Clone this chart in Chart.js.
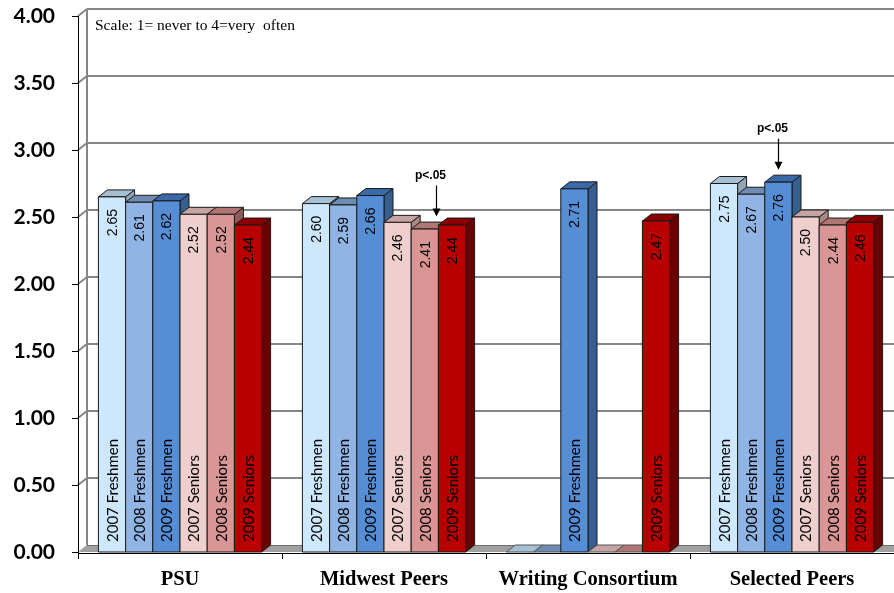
<!DOCTYPE html>
<html>
<head>
<meta charset="utf-8">
<script src="https://cdn.jsdelivr.net/npm/chart.js@4/dist/chart.umd.min.js"></script>
<style>
  html, body { margin: 0; padding: 0; background: #ffffff; }
  #wrap { width: 894px; height: 593px; }
</style>
</head>
<body>
<div id="wrap"><canvas id="chart" width="894" height="593"></canvas></div>
<script>
// Survey groups and cohorts
const categories = ['PSU', 'Midwest Peers', 'Writing Consortium', 'Selected Peers'];
const seriesNames = ['2007 Freshmen', '2008 Freshmen', '2009 Freshmen', '2007 Seniors', '2008 Seniors', '2009 Seniors'];

// Mean scores per group (null = no data for that cohort)
const freshmen2007 = [2.65, 2.60, null, 2.75];
const freshmen2008 = [2.61, 2.59, null, 2.67];
const freshmen2009 = [2.62, 2.66, 2.71, 2.76];
const seniors2007  = [2.52, 2.46, null, 2.50];
const seniors2008  = [2.52, 2.41, null, 2.44];
const seniors2009  = [2.44, 2.44, 2.47, 2.46];

// Value axis
const yMin = 0;
const yMax = 4;
const yStep = 0.5;

const scaleNote = 'Scale: 1= never to 4=very  often';

// Significance markers: which group / cohort they point at
const sigMarks = [
  { group: 1, series: 4, text: 'p<.05', shift: 0.41 },
  { group: 3, series: 2, text: 'p<.05', shift: 0 }
];

// Styling
const frontColors = ['#cde8fc', '#90b4e3', '#558ed5', '#efcfce', '#d99694', '#b80000'];
const topColors   = ['#a7bfd2', '#6f8bb1', '#3b68a6', '#c6a4a3', '#b07675', '#8a0000'];
const sideColors  = ['#91a5b5', '#5e769a', '#365f91', '#a98887', '#8e5b5a', '#6a0000'];
const outline = '#1a1a1a';
const DX = 9;    // depth offset, x
const DY = -7;   // depth offset, y
const gridColor = '#868686';

const seriesData = [freshmen2007, freshmen2008, freshmen2009, seniors2007, seniors2008, seniors2009];

function poly(ctx, pts, fill, stroke) {
  ctx.beginPath();
  ctx.moveTo(pts[0][0], pts[0][1]);
  for (let i = 1; i < pts.length; i++) ctx.lineTo(pts[i][0], pts[i][1]);
  ctx.closePath();
  if (fill) { ctx.fillStyle = fill; ctx.fill(); }
  if (stroke) { ctx.strokeStyle = stroke; ctx.lineWidth = 1; ctx.stroke(); }
}

// Walls, gridlines and floor behind the columns
const frame3d = {
  id: 'frame3d',
  beforeDatasetsDraw(chart) {
    const { ctx, chartArea: a, scales: { y } } = chart;
    const y0 = y.getPixelForValue(yMin);
    const yTop = y.getPixelForValue(yMax);
    ctx.save();
    // back wall gridlines
    ctx.strokeStyle = gridColor;
    ctx.lineWidth = 2;
    for (let v = yMin + yStep; v <= yMax + 1e-9; v += yStep) {
      const py = y.getPixelForValue(v);
      ctx.beginPath();
      ctx.moveTo(a.left + DX, py + DY);
      ctx.lineTo(a.right + 4, py + DY);
      ctx.stroke();
      // side wall diagonal
      ctx.beginPath();
      ctx.moveTo(a.left, py);
      ctx.lineTo(a.left + DX, py + DY);
      ctx.stroke();
    }
    // back wall left edge
    ctx.beginPath();
    ctx.moveTo(a.left + DX, yTop + DY);
    ctx.lineTo(a.left + DX, y0 + DY);
    ctx.stroke();

    // floor
    poly(ctx, [[a.left, y0], [a.right + 4, y0], [a.right + 4 + DX, y0 + DY], [a.left + DX, y0 + DY]], '#a0a0a0', null);
    ctx.strokeStyle = '#6e6e6e';
    ctx.lineWidth = 1;
    ctx.beginPath();
    ctx.moveTo(a.left + DX, y0 + DY + 0.5);
    ctx.lineTo(a.right + 4, y0 + DY + 0.5);
    ctx.stroke();

    // front value axis + ticks
    ctx.strokeStyle = '#000';
    ctx.lineWidth = 1;
    ctx.beginPath();
    ctx.moveTo(a.left + 0.5, yTop);
    ctx.lineTo(a.left + 0.5, y0 + 1);
    ctx.stroke();
    for (let v = yMin; v <= yMax + 1e-9; v += yStep) {
      const py = Math.round(y.getPixelForValue(v)) + 0.5;
      ctx.beginPath();
      ctx.moveTo(a.left - 6, py);
      ctx.lineTo(a.left + 0.5, py);
      ctx.stroke();
    }
    // category axis line + boundary ticks
    ctx.beginPath();
    ctx.moveTo(a.left, y0 + 1.5);
    ctx.lineTo(a.right + 4, y0 + 1.5);
    ctx.stroke();
    const n = chart.data.labels.length;
    const cw = (a.right - a.left) / n;
    for (let i = 0; i <= n; i++) {
      const px = Math.round(a.left + i * cw) + 0.5;
      ctx.beginPath();
      ctx.moveTo(px, y0 + 1.5);
      ctx.lineTo(px, y0 + 7);
      ctx.stroke();
    }

    // scale note
    ctx.fillStyle = '#000';
    ctx.font = '15.5px "Liberation Serif", "Times New Roman", serif';
    ctx.textAlign = 'left';
    ctx.textBaseline = 'middle';
    ctx.fillText(scaleNote, a.left + 17, yTop + 10);
    ctx.restore();
  }
};

// Extruded columns, labels and markers
const bars3d = {
  id: 'bars3d',
  afterDatasetsDraw(chart) {
    const { ctx, scales: { y } } = chart;
    const yz = y.getPixelForValue(yMin);
    ctx.save();
    const nGroups = chart.data.labels.length;
    for (let gi = 0; gi < nGroups; gi++) {
      chart.data.datasets.forEach((ds, si) => {
        const el = chart.getDatasetMeta(si).data[gi];
        const xl = el.x - el.width / 2;
        const xr = el.x + el.width / 2;
        const v = ds.data[gi];
        if (v === null || v === undefined) {
          poly(ctx, [[xl, yz], [xl + DX, yz + DY], [xr + DX, yz + DY], [xr, yz]], topColors[si], '#555');
          return;
        }
        const top = el.y, base = el.base;
        poly(ctx, [[xr, top], [xr + DX, top + DY], [xr + DX, base + DY], [xr, base]], sideColors[si], outline);
        poly(ctx, [[xl, top], [xl + DX, top + DY], [xr + DX, top + DY], [xr, top]], topColors[si], outline);
        poly(ctx, [[xl, top], [xr, top], [xr, base], [xl, base]], frontColors[si], outline);
      });
    }

    // value and cohort labels, rotated
    chart.data.datasets.forEach((ds, si) => {
      chart.getDatasetMeta(si).data.forEach((el, gi) => {
        const v = ds.data[gi];
        if (v === null || v === undefined) return;
        ctx.save();
        ctx.translate(el.x + 1, el.y + 12);
        ctx.rotate(-Math.PI / 2);
        ctx.fillStyle = '#000';
        ctx.textAlign = 'right';
        ctx.textBaseline = 'middle';
        ctx.font = '14px "Liberation Sans", Arial, sans-serif';
        ctx.fillText(v.toFixed(2), 0, 0);
        ctx.restore();

        ctx.save();
        ctx.translate(el.x + 1, el.base - 10);
        ctx.rotate(-Math.PI / 2);
        ctx.fillStyle = '#000';
        ctx.textAlign = 'left';
        ctx.textBaseline = 'middle';
        ctx.font = '15px Lato, "Open Sans", sans-serif';
        ctx.fillText(ds.label, 0, 0);
        ctx.restore();
      });
    });

    // significance arrows
    sigMarks.forEach(m => {
      const el = chart.getDatasetMeta(m.series).data[m.group];
      const ax = Math.round(el.x + m.shift * el.width) + 0.5;
      const tip = el.y - 12.5;
      ctx.strokeStyle = '#000';
      ctx.fillStyle = '#000';
      ctx.lineWidth = 1.2;
      ctx.beginPath();
      ctx.moveTo(ax, tip - 31);
      ctx.lineTo(ax, tip - 6);
      ctx.stroke();
      ctx.beginPath();
      ctx.moveTo(ax - 4, tip - 8);
      ctx.lineTo(ax + 4, tip - 8);
      ctx.lineTo(ax, tip);
      ctx.closePath();
      ctx.fill();
      ctx.font = 'bold 12px "Liberation Sans", Arial, sans-serif';
      ctx.textAlign = 'center';
      ctx.textBaseline = 'middle';
      ctx.fillText(m.text, ax - 6, tip - 41);
    });
    ctx.restore();
  }
};

new Chart(document.getElementById('chart').getContext('2d'), {
  type: 'bar',
  data: {
    labels: categories,
    datasets: seriesData.map((d, i) => ({
      label: seriesNames[i],
      data: d,
      backgroundColor: frontColors[i],
      borderColor: outline,
      borderWidth: 0,
      categoryPercentage: 0.8,
      barPercentage: 1.0
    }))
  },
  options: {
    responsive: false,
    animation: false,
    devicePixelRatio: 1,
    layout: { padding: { top: 16, right: -2, left: 0, bottom: 0 } },
    plugins: { legend: { display: false }, tooltip: { enabled: false } },
    scales: {
      x: {
        grid: { display: false, drawTicks: false },
        border: { display: false },
        ticks: {
          color: '#000',
          font: { family: '"Liberation Serif", "Times New Roman", serif', weight: 'bold', size: 20.5 },
          padding: 15,
          maxRotation: 0,
          autoSkip: false
        },
        afterFit(s) { s.height = 41; s.paddingLeft = 0; s.paddingRight = 0; }
      },
      y: {
        min: yMin,
        max: yMax,
        grid: { display: false, drawTicks: false },
        border: { display: false },
        ticks: {
          stepSize: yStep,
          color: '#000',
          font: { family: 'Lato, "Open Sans", sans-serif', weight: 'bold', size: 21 },
          padding: 23,
          callback: v => Number(v).toFixed(2)
        },
        afterFit(s) { s.width = 78; s.paddingTop = 0; s.paddingBottom = 0; }
      }
    }
  },
  plugins: [frame3d, bars3d]
});
</script>
</body>
</html>
